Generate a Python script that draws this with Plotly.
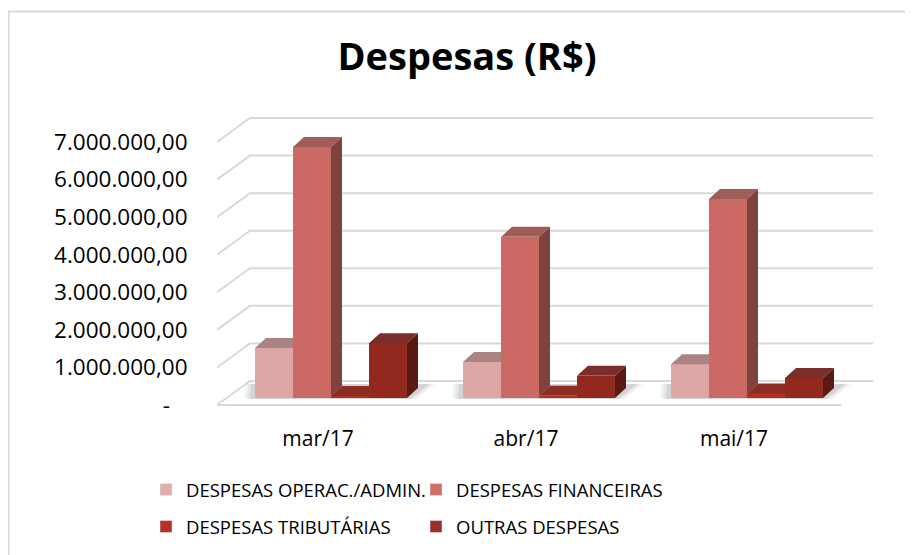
import plotly.graph_objects as go

# ---------------- data ----------------
categories = ["mar/17", "abr/17", "mai/17"]
series_names = ["DESPESAS OPERAC./ADMIN.", "DESPESAS FINANCEIRAS",
                "DESPESAS TRIBUTÁRIAS", "OUTRAS DESPESAS"]
despesas_operac_admin = [1330000, 960000, 900000]
despesas_financeiras = [6680000, 4290000, 5300000]
despesas_tributarias = [50000, 60000, 120000]
outras_despesas = [1460000, 590000, 530000]
y_tick_values = [0, 1000000, 2000000, 3000000, 4000000, 5000000, 6000000, 7000000]
y_tick_labels = ["-\u00a0\u00a0\u00a0", "1.000.000,00", "2.000.000,00", "3.000.000,00",
                 "4.000.000,00", "5.000.000,00", "6.000.000,00", "7.000.000,00"]

series_values = [despesas_operac_admin, despesas_financeiras,
                 despesas_tributarias, outras_despesas]

# ---------------- style ----------------
FONT = "Open Sans, DejaVu Sans, sans-serif"
front_colors = ["#DCA7A5", "#CB6A64", "#B3301F", "#93281E"]
top_colors = ["#A98483", "#A05C58", "#8C2C23", "#7A2E29"]
side_colors = ["#8A6463", "#7E4340", "#6A1C14", "#5A1A12"]
legend_colors = ["#E0ADAB", "#D06E68", "#B83025", "#9A3028"]
GRID = "#D9D9D9"

# geometry (category units on x, value units on y)
PX_X = 1 / 208.0            # one pixel in x units
PX_Y = 1e6 / 37.57          # one pixel in value units
X_RANGE = [-101 * PX_X, 555 * PX_X]
Y_RANGE = [-5 * PX_Y, 305 * PX_Y]
WALL_DX, WALL_DY = 33 * PX_X, 24 * PX_Y
BAR_W = 38 * PX_X
GROUP_SHIFT = 13 * PX_X
BASE = 7 * PX_Y
DEPTH_DX, DEPTH_DY = 11 * PX_X, 10 * PX_Y
FLOOR_RIGHT = 523 * PX_X

fig = go.Figure()

# walls / gridlines (drawn below the bars)
xl, xr = X_RANGE[0], X_RANGE[1]
shapes = []
for t in y_tick_values:
    shapes.append(dict(type="path", xref="x", yref="y", layer="below",
                       path=f"M {xl},{t} L {xl + WALL_DX},{t + WALL_DY} L {xr},{t + WALL_DY}",
                       line=dict(color=GRID, width=2)))
shapes.append(dict(type="line", xref="x", yref="y", layer="below",
                   x0=xl, y0=0, x1=FLOOR_RIGHT, y1=0, line=dict(color=GRID, width=2)))

# soft floor shadows under each group of bars
n_series = len(series_values)
for i in range(len(categories)):
    gl = i + GROUP_SHIFT - n_series / 2 * BAR_W
    gr = i + GROUP_SHIFT + n_series / 2 * BAR_W
    for grow, alpha in [(9, 0.05), (6, 0.07), (3, 0.09)]:
        shapes.append(dict(
            type="path", xref="x", yref="y", layer="below",
            path=(f"M {gl - (grow + 2) * PX_X},{BASE - 1 * PX_Y} "
                  f"L {gr + grow * PX_X},{BASE - 1 * PX_Y} "
                  f"L {gr + DEPTH_DX + (grow + 8) * PX_X},{BASE + DEPTH_DY + 4 * PX_Y} "
                  f"L {gl + DEPTH_DX - (grow + 12) * PX_X},{BASE + DEPTH_DY + 4 * PX_Y} Z"),
            fillcolor=f"rgba(40,40,40,{alpha})", line=dict(width=0)))

# bars: front faces (go.Bar) + top and side faces (filled polygons)
for k, (name, vals) in enumerate(zip(series_names, series_values)):
    xs = [i + GROUP_SHIFT + (k - 1.5) * BAR_W for i in range(len(categories))]
    fig.add_trace(go.Bar(
        x=xs, y=vals, base=BASE, width=BAR_W, name=name,
        marker=dict(color=front_colors[k], line=dict(width=0)),
        showlegend=False, hoverinfo="skip"))

for k, vals in enumerate(series_values):
    for i in range(len(categories)):
        cx = i + GROUP_SHIFT + (k - 1.5) * BAR_W
        x0, x1 = cx - BAR_W / 2, cx + BAR_W / 2
        v = BASE + vals[i]
        nxt = BASE + series_values[k + 1][i] if k + 1 < n_series else None
        # top face (clipped by next bar's front face)
        if nxt is None or nxt <= v:
            tx = [x0, x1, x1 + DEPTH_DX, x0 + DEPTH_DX, x0]
            ty = [v, v, v + DEPTH_DY, v + DEPTH_DY, v]
        elif nxt >= v + DEPTH_DY:
            tx = [x0, x1, x1, x0 + DEPTH_DX, x0]
            ty = [v, v, v + DEPTH_DY, v + DEPTH_DY, v]
        else:
            xc = x1 + (nxt - v) / DEPTH_DY * DEPTH_DX
            tx = [x0, x1, x1, xc, x1 + DEPTH_DX, x0 + DEPTH_DX, x0]
            ty = [v, v, nxt, nxt, v + DEPTH_DY, v + DEPTH_DY, v]
        fig.add_trace(go.Scatter(x=tx, y=ty, mode="lines", fill="toself",
                                 fillcolor=top_colors[k], line=dict(width=0),
                                 hoverinfo="skip", showlegend=False))
        # side face (only part above next bar is visible)
        lo = BASE if nxt is None else max(BASE, nxt)
        if lo < v:
            sx = [x1, x1 + DEPTH_DX, x1 + DEPTH_DX, x1, x1]
            sy = [lo, lo + DEPTH_DY, v + DEPTH_DY, v, lo]
            fig.add_trace(go.Scatter(x=sx, y=sy, mode="lines", fill="toself",
                                     fillcolor=side_colors[k], line=dict(width=0),
                                     hoverinfo="skip", showlegend=False))

# legend entries
for k, name in enumerate(series_names):
    fig.add_trace(go.Bar(
        x=[None], y=[None], name=name, marker=dict(color=legend_colors[k]),
        legend="legend" if k < 2 else "legend2", showlegend=True))

OFF = 8  # page body margin
L, R, T, B = 217 - OFF, 913 - 873 + OFF, 100 - OFF, 555 - 410 + OFF
W, H = 913, 555
pw, ph = W - L - R, H - T - B

legend_common = dict(orientation="h", xref="container", yref="container",
                     xanchor="left", yanchor="middle",
                     entrywidth=225, entrywidthmode="pixels",
                     font=dict(family=FONT, size=18.5, color="#000000"),
                     bgcolor="rgba(0,0,0,0)")

fig.update_layout(
    width=W, height=H,
    margin=dict(l=L, r=R, t=T, b=B, pad=0),
    paper_bgcolor="white", plot_bgcolor="white",
    barmode="overlay", bargap=0,
    title=dict(text="<b>Despesas (R$)</b>", x=(467 - OFF) / W, xanchor="center",
               y=1 - (57 - OFF) / H, yanchor="middle",
               font=dict(family="Open Sans, DejaVu Sans, sans-serif", size=38, color="#000000")),
    font=dict(family=FONT, size=20, color="#000000"),
    xaxis=dict(range=X_RANGE, tickmode="array", tickvals=[0, 1, 2], ticktext=categories,
               showgrid=False, zeroline=False, showline=False,
               ticks="outside", ticklen=10, tickcolor="rgba(0,0,0,0)",
               tickfont=dict(family=FONT, size=21, color="#000000"), fixedrange=True),
    yaxis=dict(range=Y_RANGE, tickmode="array", tickvals=y_tick_values, ticktext=y_tick_labels,
               showgrid=False, zeroline=False, showline=False,
               ticks="outside", ticklen=24, tickcolor="rgba(0,0,0,0)",
               tickfont=dict(family=FONT, size=22.5, color="#000000"), fixedrange=True),
    legend=dict(legend_common, x=(146 - OFF) / W, y=1 - (490 - OFF) / H),
    legend2=dict(legend_common, x=(146 - OFF) / W, y=1 - (527 - OFF) / H),
    shapes=shapes + [dict(type="rect", xref="paper", yref="paper",
                          x0=(8.5 - OFF - L) / pw, x1=(W + 10 - L) / pw,
                          y0=-(B + 20) / ph, y1=(H - B - (11.5 - OFF)) / ph,
                          line=dict(color="#D9D9D9", width=2), fillcolor="rgba(0,0,0,0)",
                          layer="below")],
)

fig.write_html("out.html")
